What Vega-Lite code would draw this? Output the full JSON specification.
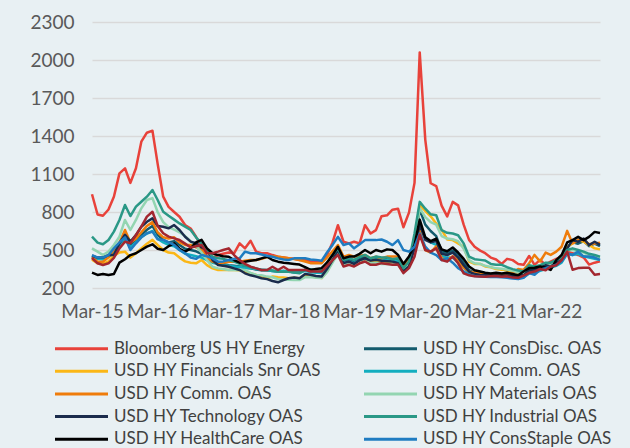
{
  "$schema": "https://vega.github.io/schema/vega-lite/v6.json",
  "width": 508,
  "height": 266,
  "autosize": {"type": "none"},
  "padding": {"left": 92, "top": 22, "right": 30, "bottom": 160},
  "background": "#e8f0f3",
  "config": {"view": {"stroke": null}, "font": "Lato"},
  "data": {"values": [
    {"d":"2015/03/01","E":940,"CD":450,"FIN":424,"COMc":445,"COMo":442,"MAT":513,"TECH":455,"IND":605,"HC":321,"CS":460,"X":437},
    {"d":"2015/04/01","E":780,"CD":430,"FIN":395,"COMc":430,"COMo":408,"MAT":487,"TECH":440,"IND":558,"HC":303,"CS":440,"X":395},
    {"d":"2015/05/01","E":770,"CD":430,"FIN":390,"COMc":425,"COMo":408,"MAT":460,"TECH":440,"IND":545,"HC":311,"CS":440,"X":382},
    {"d":"2015/06/01","E":820,"CD":450,"FIN":410,"COMc":445,"COMo":442,"MAT":487,"TECH":460,"IND":579,"HC":303,"CS":460,"X":395},
    {"d":"2015/07/01","E":920,"CD":470,"FIN":455,"COMc":480,"COMo":500,"MAT":540,"TECH":460,"IND":645,"HC":311,"CS":513,"X":437},
    {"d":"2015/08/01","E":1105,"CD":540,"FIN":480,"COMc":540,"COMo":560,"MAT":605,"TECH":553,"IND":737,"HC":400,"CS":560,"X":513},
    {"d":"2015/09/01","E":1145,"CD":600,"FIN":487,"COMc":590,"COMo":658,"MAT":737,"TECH":620,"IND":855,"HC":427,"CS":600,"X":566},
    {"d":"2015/10/01","E":1030,"CD":540,"FIN":440,"COMc":520,"COMo":560,"MAT":658,"TECH":566,"IND":768,"HC":460,"CS":500,"X":553},
    {"d":"2015/11/01","E":1145,"CD":580,"FIN":474,"COMc":560,"COMo":590,"MAT":737,"TECH":618,"IND":842,"HC":474,"CS":553,"X":618},
    {"d":"2015/12/01","E":1355,"CD":620,"FIN":513,"COMc":600,"COMo":640,"MAT":829,"TECH":684,"IND":881,"HC":500,"CS":600,"X":684},
    {"d":"2016/01/01","E":1426,"CD":660,"FIN":550,"COMc":630,"COMo":690,"MAT":895,"TECH":723,"IND":921,"HC":527,"CS":632,"X":763},
    {"d":"2016/02/01","E":1442,"CD":690,"FIN":580,"COMc":650,"COMo":720,"MAT":910,"TECH":750,"IND":974,"HC":545,"CS":645,"X":802},
    {"d":"2016/03/01","E":1180,"CD":620,"FIN":540,"COMc":590,"COMo":640,"MAT":800,"TECH":690,"IND":895,"HC":510,"CS":585,"X":690},
    {"d":"2016/04/01","E":921,"CD":580,"FIN":500,"COMc":560,"COMo":600,"MAT":720,"TECH":684,"IND":802,"HC":500,"CS":580,"X":632},
    {"d":"2016/05/01","E":840,"CD":560,"FIN":480,"COMc":540,"COMo":590,"MAT":680,"TECH":671,"IND":770,"HC":530,"CS":560,"X":606},
    {"d":"2016/06/01","E":800,"CD":570,"FIN":474,"COMc":530,"COMo":600,"MAT":660,"TECH":697,"IND":740,"HC":553,"CS":540,"X":592},
    {"d":"2016/07/01","E":763,"CD":540,"FIN":440,"COMc":500,"COMo":560,"MAT":640,"TECH":658,"IND":710,"HC":510,"CS":500,"X":579},
    {"d":"2016/08/01","E":697,"CD":510,"FIN":410,"COMc":470,"COMo":540,"MAT":610,"TECH":605,"IND":684,"HC":487,"CS":474,"X":550},
    {"d":"2016/09/01","E":670,"CD":500,"FIN":400,"COMc":460,"COMo":540,"MAT":570,"TECH":566,"IND":658,"HC":513,"CS":440,"X":520},
    {"d":"2016/10/01","E":605,"CD":490,"FIN":395,"COMc":450,"COMo":520,"MAT":530,"TECH":553,"IND":600,"HC":560,"CS":430,"X":530},
    {"d":"2016/11/01","E":520,"CD":470,"FIN":421,"COMc":440,"COMo":500,"MAT":480,"TECH":520,"IND":550,"HC":580,"CS":460,"X":540},
    {"d":"2016/12/01","E":450,"CD":440,"FIN":380,"COMc":420,"COMo":440,"MAT":420,"TECH":500,"IND":490,"HC":513,"CS":450,"X":474},
    {"d":"2017/01/01","E":440,"CD":420,"FIN":355,"COMc":400,"COMo":408,"MAT":368,"TECH":421,"IND":447,"HC":474,"CS":434,"X":474},
    {"d":"2017/02/01","E":460,"CD":400,"FIN":342,"COMc":390,"COMo":395,"MAT":355,"TECH":382,"IND":434,"HC":460,"CS":408,"X":487},
    {"d":"2017/03/01","E":470,"CD":390,"FIN":342,"COMc":380,"COMo":400,"MAT":350,"TECH":375,"IND":430,"HC":450,"CS":410,"X":500},
    {"d":"2017/04/01","E":480,"CD":380,"FIN":342,"COMc":375,"COMo":408,"MAT":342,"TECH":368,"IND":420,"HC":447,"CS":421,"X":513},
    {"d":"2017/05/01","E":474,"CD":375,"FIN":342,"COMc":370,"COMo":408,"MAT":342,"TECH":355,"IND":408,"HC":421,"CS":430,"X":460},
    {"d":"2017/06/01","E":553,"CD":370,"FIN":340,"COMc":365,"COMo":408,"MAT":345,"TECH":342,"IND":390,"HC":400,"CS":434,"X":420},
    {"d":"2017/07/01","E":513,"CD":360,"FIN":329,"COMc":360,"COMo":415,"MAT":342,"TECH":316,"IND":375,"HC":408,"CS":487,"X":390},
    {"d":"2017/08/01","E":573,"CD":355,"FIN":315,"COMc":355,"COMo":421,"MAT":320,"TECH":300,"IND":365,"HC":415,"CS":474,"X":368},
    {"d":"2017/09/01","E":487,"CD":345,"FIN":303,"COMc":350,"COMo":421,"MAT":303,"TECH":290,"IND":355,"HC":421,"CS":474,"X":355},
    {"d":"2017/10/01","E":474,"CD":340,"FIN":290,"COMc":345,"COMo":430,"MAT":300,"TECH":277,"IND":342,"HC":434,"CS":465,"X":342},
    {"d":"2017/11/01","E":474,"CD":340,"FIN":277,"COMc":340,"COMo":445,"MAT":290,"TECH":270,"IND":342,"HC":447,"CS":455,"X":342},
    {"d":"2017/12/01","E":460,"CD":335,"FIN":290,"COMc":335,"COMo":450,"MAT":285,"TECH":255,"IND":338,"HC":421,"CS":447,"X":368},
    {"d":"2018/01/01","E":447,"CD":330,"FIN":285,"COMc":330,"COMo":447,"MAT":270,"TECH":245,"IND":329,"HC":408,"CS":434,"X":342},
    {"d":"2018/02/01","E":440,"CD":335,"FIN":282,"COMc":335,"COMo":440,"MAT":268,"TECH":263,"IND":329,"HC":400,"CS":425,"X":368},
    {"d":"2018/03/01","E":434,"CD":330,"FIN":277,"COMc":330,"COMo":434,"MAT":265,"TECH":277,"IND":329,"HC":395,"CS":421,"X":342},
    {"d":"2018/04/01","E":430,"CD":325,"FIN":280,"COMc":325,"COMo":428,"MAT":263,"TECH":283,"IND":322,"HC":390,"CS":434,"X":342},
    {"d":"2018/05/01","E":421,"CD":322,"FIN":277,"COMc":320,"COMo":421,"MAT":263,"TECH":277,"IND":316,"HC":385,"CS":434,"X":342},
    {"d":"2018/06/01","E":422,"CD":345,"FIN":300,"COMc":335,"COMo":409,"MAT":285,"TECH":310,"IND":345,"HC":365,"CS":435,"X":343},
    {"d":"2018/07/01","E":409,"CD":335,"FIN":296,"COMc":325,"COMo":396,"MAT":286,"TECH":304,"IND":349,"HC":343,"CS":425,"X":330},
    {"d":"2018/08/01","E":409,"CD":330,"FIN":285,"COMc":320,"COMo":396,"MAT":280,"TECH":295,"IND":343,"HC":350,"CS":422,"X":330},
    {"d":"2018/09/01","E":409,"CD":325,"FIN":278,"COMc":318,"COMo":396,"MAT":278,"TECH":291,"IND":343,"HC":357,"CS":415,"X":330},
    {"d":"2018/10/01","E":460,"CD":360,"FIN":330,"COMc":360,"COMo":440,"MAT":325,"TECH":350,"IND":400,"HC":400,"CS":480,"X":375},
    {"d":"2018/11/01","E":560,"CD":420,"FIN":410,"COMc":410,"COMo":490,"MAT":400,"TECH":420,"IND":460,"HC":460,"CS":540,"X":420},
    {"d":"2018/12/01","E":696,"CD":480,"FIN":487,"COMc":470,"COMo":539,"MAT":474,"TECH":500,"IND":513,"HC":526,"CS":604,"X":461},
    {"d":"2019/01/01","E":565,"CD":410,"FIN":383,"COMc":400,"COMo":448,"MAT":383,"TECH":396,"IND":422,"HC":435,"CS":539,"X":370},
    {"d":"2019/02/01","E":552,"CD":420,"FIN":396,"COMc":410,"COMo":461,"MAT":396,"TECH":409,"IND":435,"HC":448,"CS":552,"X":383},
    {"d":"2019/03/01","E":565,"CD":405,"FIN":383,"COMc":395,"COMo":448,"MAT":375,"TECH":390,"IND":422,"HC":448,"CS":513,"X":370},
    {"d":"2019/04/01","E":552,"CD":430,"FIN":410,"COMc":420,"COMo":455,"MAT":400,"TECH":420,"IND":445,"HC":470,"CS":545,"X":395},
    {"d":"2019/05/01","E":696,"CD":445,"FIN":422,"COMc":430,"COMo":461,"MAT":409,"TECH":435,"IND":461,"HC":500,"CS":578,"X":409},
    {"d":"2019/06/01","E":630,"CD":430,"FIN":409,"COMc":420,"COMo":435,"MAT":396,"TECH":417,"IND":435,"HC":474,"CS":578,"X":383},
    {"d":"2019/07/01","E":657,"CD":440,"FIN":414,"COMc":425,"COMo":448,"MAT":400,"TECH":422,"IND":448,"HC":500,"CS":578,"X":383},
    {"d":"2019/08/01","E":766,"CD":435,"FIN":400,"COMc":420,"COMo":435,"MAT":390,"TECH":415,"IND":440,"HC":487,"CS":583,"X":396},
    {"d":"2019/09/01","E":774,"CD":435,"FIN":396,"COMc":420,"COMo":448,"MAT":390,"TECH":412,"IND":440,"HC":505,"CS":565,"X":390},
    {"d":"2019/10/01","E":818,"CD":430,"FIN":395,"COMc":415,"COMo":448,"MAT":390,"TECH":409,"IND":427,"HC":500,"CS":539,"X":383},
    {"d":"2019/11/01","E":826,"CD":425,"FIN":390,"COMc":410,"COMo":448,"MAT":383,"TECH":396,"IND":435,"HC":461,"CS":578,"X":385},
    {"d":"2019/12/01","E":680,"CD":360,"FIN":343,"COMc":350,"COMo":383,"MAT":330,"TECH":330,"IND":357,"HC":390,"CS":500,"X":317},
    {"d":"2020/01/01","E":795,"CD":400,"FIN":409,"COMc":400,"COMo":435,"MAT":396,"TECH":370,"IND":409,"HC":448,"CS":487,"X":357},
    {"d":"2020/02/01","E":1030,"CD":560,"FIN":578,"COMc":520,"COMo":539,"MAT":565,"TECH":513,"IND":630,"HC":539,"CS":526,"X":448},
    {"d":"2020/03/01","E":2060,"CD":820,"FIN":855,"COMc":700,"COMo":650,"MAT":830,"TECH":700,"IND":880,"HC":740,"CS":630,"X":620},
    {"d":"2020/04/01","E":1370,"CD":700,"FIN":808,"COMc":600,"COMo":500,"MAT":760,"TECH":580,"IND":826,"HC":600,"CS":526,"X":500},
    {"d":"2020/05/01","E":1027,"CD":650,"FIN":766,"COMc":560,"COMo":480,"MAT":720,"TECH":560,"IND":782,"HC":570,"CS":480,"X":487},
    {"d":"2020/06/01","E":1005,"CD":610,"FIN":709,"COMc":540,"COMo":530,"MAT":700,"TECH":570,"IND":774,"HC":590,"CS":460,"X":513},
    {"d":"2020/07/01","E":850,"CD":490,"FIN":660,"COMc":450,"COMo":435,"MAT":610,"TECH":470,"IND":657,"HC":505,"CS":421,"X":421},
    {"d":"2020/08/01","E":765,"CD":475,"FIN":583,"COMc":440,"COMo":420,"MAT":590,"TECH":460,"IND":636,"HC":490,"CS":434,"X":408},
    {"d":"2020/09/01","E":880,"CD":495,"FIN":578,"COMc":440,"COMo":450,"MAT":585,"TECH":480,"IND":630,"HC":520,"CS":400,"X":448},
    {"d":"2020/10/01","E":852,"CD":465,"FIN":552,"COMc":400,"COMo":420,"MAT":570,"TECH":440,"IND":617,"HC":480,"CS":356,"X":395},
    {"d":"2020/11/01","E":700,"CD":400,"FIN":526,"COMc":360,"COMo":360,"MAT":510,"TECH":380,"IND":552,"HC":430,"CS":330,"X":316},
    {"d":"2020/12/01","E":580,"CD":340,"FIN":409,"COMc":320,"COMo":330,"MAT":420,"TECH":330,"IND":448,"HC":370,"CS":304,"X":300},
    {"d":"2021/01/01","E":525,"CD":322,"FIN":390,"COMc":305,"COMo":320,"MAT":395,"TECH":310,"IND":427,"HC":340,"CS":295,"X":292},
    {"d":"2021/02/01","E":495,"CD":315,"FIN":390,"COMc":300,"COMo":315,"MAT":390,"TECH":302,"IND":422,"HC":330,"CS":291,"X":290},
    {"d":"2021/03/01","E":475,"CD":312,"FIN":370,"COMc":298,"COMo":315,"MAT":375,"TECH":300,"IND":417,"HC":320,"CS":288,"X":288},
    {"d":"2021/04/01","E":440,"CD":310,"FIN":364,"COMc":295,"COMo":305,"MAT":365,"TECH":298,"IND":390,"HC":315,"CS":286,"X":292},
    {"d":"2021/05/01","E":425,"CD":312,"FIN":349,"COMc":295,"COMo":310,"MAT":355,"TECH":300,"IND":383,"HC":320,"CS":286,"X":295},
    {"d":"2021/06/01","E":390,"CD":308,"FIN":345,"COMc":292,"COMo":305,"MAT":352,"TECH":297,"IND":383,"HC":315,"CS":284,"X":288},
    {"d":"2021/07/01","E":430,"CD":305,"FIN":338,"COMc":290,"COMo":312,"MAT":345,"TECH":298,"IND":364,"HC":320,"CS":280,"X":292},
    {"d":"2021/08/01","E":420,"CD":302,"FIN":330,"COMc":285,"COMo":318,"MAT":335,"TECH":295,"IND":349,"HC":310,"CS":275,"X":282},
    {"d":"2021/09/01","E":390,"CD":300,"FIN":322,"COMc":280,"COMo":350,"MAT":325,"TECH":292,"IND":338,"HC":300,"CS":270,"X":280},
    {"d":"2021/10/01","E":383,"CD":305,"FIN":320,"COMc":285,"COMo":343,"MAT":320,"TECH":300,"IND":330,"HC":330,"CS":280,"X":297},
    {"d":"2021/11/01","E":453,"CD":335,"FIN":360,"COMc":315,"COMo":396,"MAT":355,"TECH":340,"IND":380,"HC":357,"CS":318,"X":320},
    {"d":"2021/12/01","E":383,"CD":340,"FIN":360,"COMc":320,"COMo":461,"MAT":355,"TECH":345,"IND":370,"HC":360,"CS":305,"X":330},
    {"d":"2022/01/01","E":422,"CD":355,"FIN":375,"COMc":335,"COMo":409,"MAT":370,"TECH":360,"IND":380,"HC":370,"CS":344,"X":350},
    {"d":"2022/02/01","E":383,"CD":370,"FIN":395,"COMc":350,"COMo":479,"MAT":385,"TECH":380,"IND":400,"HC":360,"CS":357,"X":340},
    {"d":"2022/03/01","E":409,"CD":365,"FIN":390,"COMc":360,"COMo":461,"MAT":385,"TECH":370,"IND":400,"HC":343,"CS":370,"X":370},
    {"d":"2022/04/01","E":430,"CD":390,"FIN":420,"COMc":375,"COMo":487,"MAT":405,"TECH":400,"IND":420,"HC":420,"CS":383,"X":380},
    {"d":"2022/05/01","E":448,"CD":420,"FIN":440,"COMc":400,"COMo":526,"MAT":425,"TECH":430,"IND":440,"HC":461,"CS":409,"X":420},
    {"d":"2022/06/01","E":487,"CD":520,"FIN":526,"COMc":470,"COMo":651,"MAT":500,"TECH":513,"IND":500,"HC":560,"CS":474,"X":487},
    {"d":"2022/07/01","E":474,"CD":560,"FIN":552,"COMc":460,"COMo":552,"MAT":500,"TECH":578,"IND":513,"HC":578,"CS":461,"X":344},
    {"d":"2022/08/01","E":461,"CD":550,"FIN":578,"COMc":470,"COMo":578,"MAT":490,"TECH":565,"IND":500,"HC":604,"CS":487,"X":357},
    {"d":"2022/09/01","E":440,"CD":570,"FIN":565,"COMc":450,"COMo":580,"MAT":480,"TECH":591,"IND":487,"HC":578,"CS":448,"X":360},
    {"d":"2022/10/01","E":385,"CD":530,"FIN":540,"COMc":440,"COMo":545,"MAT":460,"TECH":539,"IND":470,"HC":604,"CS":448,"X":360},
    {"d":"2022/11/01","E":400,"CD":550,"FIN":513,"COMc":430,"COMo":552,"MAT":450,"TECH":565,"IND":461,"HC":643,"CS":440,"X":305},
    {"d":"2022/12/01","E":410,"CD":530,"FIN":505,"COMc":420,"COMo":557,"MAT":440,"TECH":540,"IND":448,"HC":635,"CS":422,"X":310}
  ]},
  "transform": [
    {"fold": ["E","CD","FIN","COMc","COMo","MAT","TECH","IND","HC","CS","X"], "as": ["series","value"]}
  ],
  "mark": {"type": "line", "strokeWidth": 2.5, "strokeJoin": "round"},
  "encoding": {
    "x": {
      "field": "d", "type": "temporal",
      "axis": {
        "title": null,
        "format": "%b-%y",
        "values": [
          {"year":2015,"month":3,"date":1},{"year":2016,"month":3,"date":1},{"year":2017,"month":3,"date":1},{"year":2018,"month":3,"date":1},
          {"year":2019,"month":3,"date":1},{"year":2020,"month":3,"date":1},{"year":2021,"month":3,"date":1},{"year":2022,"month":3,"date":1}
        ],
        "grid": false, "ticks": false, "domain": false,
        "labelFont": "Lato", "labelFontSize": 19, "labelColor": "#595959",
        "labelPadding": 14, "labelOverlap": false, "labelFlush": false, "labelBound": false
      }
    },
    "y": {
      "field": "value", "type": "quantitative",
      "scale": {"domain": [200, 2300], "zero": false, "nice": false},
      "axis": {
        "title": null,
        "format": "d",
        "values": [200, 500, 800, 1100, 1400, 1700, 2000, 2300],
        "grid": true, "gridColor": "#d9d9d9", "gridWidth": 1.5,
        "ticks": false, "domain": false,
        "labelFont": "Lato", "labelFontSize": 19, "labelColor": "#595959",
        "labelPadding": 18
      }
    },
    "color": {
      "field": "series", "type": "nominal",
      "scale": {
        "domain": ["E","CD","FIN","COMc","COMo","MAT","TECH","IND","HC","CS","X"],
        "range": ["#e8423a","#135b6d","#fbb716","#13aebf","#ef7c0b","#93d5b1","#1b2c4c","#2a9886","#000000","#1f7cc1","#a3272f"]
      },
      "legend": {
        "orient": "none", "legendX": -21, "legendY": 316,
        "title": null, "columns": 2, "padding": 0,
        "values": ["E","FIN","COMo","TECH","HC","CD","COMc","MAT","IND","CS"],
        "symbolType": "M-3,0L3,0", "symbolSize": 312, "symbolStrokeWidth": 3,
        "labelFont": "Lato", "labelFontSize": 17, "labelColor": "#404040",
        "labelOffset": 22, "labelLimit": 400, "rowPadding": 3.7, "columnPadding": 36,
        "labelExpr": "datum.label == 'E' ? 'Bloomberg US HY Energy' : datum.label == 'CD' ? 'USD HY ConsDisc. OAS' : datum.label == 'FIN' ? 'USD HY Financials Snr OAS' : datum.label == 'COMc' ? 'USD HY Comm. OAS' : datum.label == 'COMo' ? 'USD HY Comm. OAS' : datum.label == 'MAT' ? 'USD HY Materials OAS' : datum.label == 'TECH' ? 'USD HY Technology OAS' : datum.label == 'IND' ? 'USD HY Industrial OAS' : datum.label == 'HC' ? 'USD HY HealthCare OAS' : 'USD HY ConsStaple OAS'"
      }
    }
  }
}
